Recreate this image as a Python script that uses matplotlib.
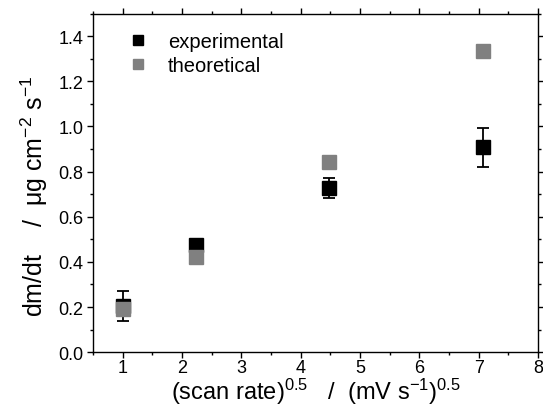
import numpy as np
import matplotlib
matplotlib.use("Agg")
import matplotlib.pyplot as plt
from matplotlib.ticker import MultipleLocator

plt.rcParams['font.family'] = ['Liberation Sans', 'DejaVu Sans']
plt.rcParams['mathtext.fontset'] = 'custom'
plt.rcParams['mathtext.rm'] = 'Liberation Sans'
plt.rcParams['mathtext.it'] = 'Liberation Sans'

# Data
scan_rate_sqrt = [1.0, 2.236, 4.472, 7.071]
experimental = [0.205, 0.476, 0.727, 0.908]
experimental_err = [0.065, 0.0, 0.044, 0.087]
theoretical = [0.192, 0.424, 0.842, 1.333]

fig = plt.figure(figsize=(5.43, 4.06), dpi=100)
ax = fig.add_axes([0.171, 0.130, 0.820, 0.834])

ax.errorbar(scan_rate_sqrt, experimental, yerr=experimental_err, fmt='none',
            ecolor='black', elinewidth=1.3, capsize=4, capthick=1.3, zorder=2)
ax.plot(scan_rate_sqrt, experimental, 's', color='black', markersize=10,
        label='experimental', zorder=3)
ax.plot(scan_rate_sqrt, theoretical, 's', color='#808080', markersize=10,
        label='theoretical', zorder=4)

ax.set_xlim(0.5, 8)
ax.set_ylim(0, 1.5)
ax.set_xticks([1, 2, 3, 4, 5, 6, 7, 8])
ax.set_yticks([0.0, 0.2, 0.4, 0.6, 0.8, 1.0, 1.2, 1.4])
ax.set_yticklabels(['0.0', '0.2', '0.4', '0.6', '0.8', '1.0', '1.2', '1.4'])
ax.xaxis.set_minor_locator(MultipleLocator(0.5))
ax.yaxis.set_minor_locator(MultipleLocator(0.1))
ax.tick_params(which='both', direction='out', top=True, right=True,
               labelsize=13)
ax.tick_params(which='major', length=4, width=1, pad=3)
ax.tick_params(axis='x', which='major', pad=1)
ax.tick_params(which='minor', length=2.5, width=1)
for s in ax.spines.values():
    s.set_linewidth(1.0)

ax.set_xlabel(r'(scan rate)$^{0.5}$   /  (mV s$^{-1}$)$^{0.5}$', fontsize=17,
              va='baseline')
ax.xaxis.set_label_coords(0.5, -0.139)
ax.set_ylabel(r'dm/dt    /  $\mathrm{\mu}$g cm$^{-2}$ s$^{-1}$', fontsize=18)
ax.yaxis.set_label_coords(-0.097, 0.463)

ax.legend(loc='upper left', frameon=False, fontsize=14.5, handletextpad=1.0,
          borderaxespad=0.0, bbox_to_anchor=(0.06, 0.97), labelspacing=0.25,
          handlelength=1.0, markerscale=0.7)

fig.savefig("out.png", dpi=100)
